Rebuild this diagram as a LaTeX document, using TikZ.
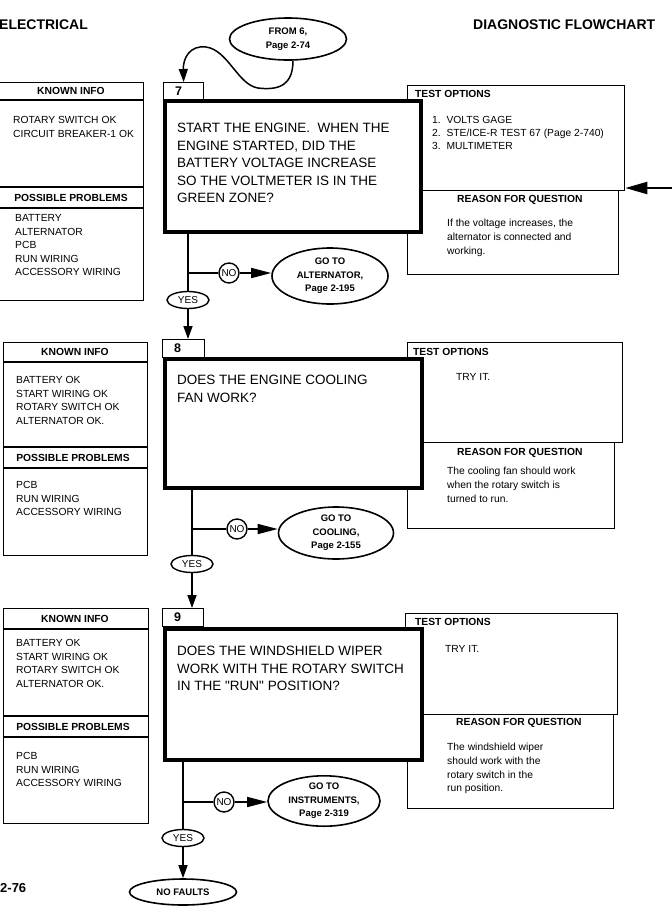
\documentclass[tikz,border=0pt]{standalone}
\usepackage{fontspec}
\setmainfont{Liberation Sans}[Ligatures=TeXOff]
\usetikzlibrary{arrows.meta,shapes.geometric}
\begin{document}
\begin{tikzpicture}[x=1pt,y=-1pt,
 pline/.style={line width=1.3pt},
 panel/.style={draw, line width=1.3pt, inner sep=0pt, anchor=north west},
 qbox/.style={draw, line width=4pt, fill=white, inner sep=0pt, anchor=north west},
 lbl/.style={draw, line width=1.3pt, fill=white, inner sep=0pt, anchor=north west},
 num/.style={anchor=west, inner sep=0pt, font=\bfseries\fontsize{12.5}{14}\selectfont},
 qtext/.style={anchor=north west, inner sep=0pt, align=left, font=\fontsize{13.5}{17.5}\selectfont},
 ptext/.style={anchor=north west, inner sep=0pt, align=left, font=\fontsize{10.3}{13.6}\selectfont},
 phead/.style={inner sep=0pt, font=\bfseries\fontsize{10.3}{12}\selectfont},
 ell/.style={ellipse, draw, line width=1.6pt, inner sep=0pt, align=center, font=\bfseries\fontsize{9.5}{13.5}\selectfont},
 yes/.style={ellipse, draw, line width=1.4pt, minimum width=42pt, minimum height=17pt, inner sep=0pt, font=\fontsize{10}{11}\selectfont},
 no/.style={circle, draw, line width=1.4pt, minimum size=20pt, inner sep=0pt, font=\fontsize{10}{11}\selectfont},
 conn/.style={line width=1.5pt},
 arr/.style={conn, -{Triangle[length=13pt,width=9pt]}},
 narr/.style={conn, -{Triangle[length=20pt,width=10pt]}},
 barr/.style={line width=2.2pt, -{Triangle[length=22pt,width=12pt]}},
 head/.style={anchor=west, inner sep=0pt, font=\bfseries\fontsize{14}{16}\selectfont},
]
\useasboundingbox (0,0) rectangle (672,914);

% headers
\node[head] (hl) at (-1,25) {ELECTRICAL};
\node[head] (hr) at (473,25) {DIAGNOSTIC FLOWCHART};
\node[head, font=\bfseries\fontsize{13}{15}\selectfont] (pg) at (0,888) {2-76};

% ---------------- block 7 ----------------
\node[panel, minimum width=144pt, minimum height=218pt] (k7) at (-1,82) {};
\draw[pline] (k7.west |- 0,100) -- (k7.east |- 0,100);
\draw[pline] (k7.west |- 0,187) -- (k7.east |- 0,187);
\draw[pline] (k7.west |- 0,208) -- (k7.east |- 0,208);
\node[phead] (k7h) at (71,91) {KNOWN INFO};
\node[phead] (k7p) at (71,197.5) {POSSIBLE PROBLEMS};
\node[ptext] (k7a) at (13,116.3) {ROTARY SWITCH OK\\CIRCUIT BREAKER-1 OK};
\node[ptext] (k7b) at (15,214.3) {BATTERY\\ALTERNATOR\\PCB\\RUN WIRING\\ACCESSORY WIRING};

\node[panel, minimum width=217pt, minimum height=105pt] (t7) at (407,85) {};
\node[panel, minimum width=211pt, minimum height=84pt] (r7) at (407,190) {};
\node[lbl, minimum width=40pt, minimum height=17pt] (lab7) at (163,82) {};
\node[num] (n7) at ([xshift=12pt]lab7.west) {7};
\node[qbox, minimum width=256pt, minimum height=131pt] (q7) at (163,99) {};
\node[qtext] (q7t) at (177,123) {START THE ENGINE.\ \ WHEN THE\\ENGINE STARTED, DID THE\\BATTERY VOLTAGE INCREASE\\SO THE VOLTMETER IS IN THE\\GREEN ZONE?};
\node[phead, anchor=west] (t7h) at (415,94) {TEST OPTIONS};
\node[ptext, font=\fontsize{10.3}{12.8}\selectfont] (t7a) at (432,116.3) {1.\ \ VOLTS GAGE\\2.\ \ STE/ICE-R TEST 67 (Page 2-740)\\3.\ \ MULTIMETER};
\node[phead, anchor=west] (r7h) at (457,200) {REASON FOR QUESTION};
\node[ptext] (r7a) at (447,219.3) {If the voltage increases, the\\alternator is connected and\\working.};

\coordinate (rin) at (672,188);
\draw[barr] (rin) -- (rin -| t7.east);

\node[ell, minimum width=117pt, minimum height=42pt] (from) at (288,39) {FROM 6,\\Page 2-74};
\draw[arr] ([xshift=5pt]from.south) .. controls (293,88) and (275,90) .. (258,88)
  .. controls (238,85) and (228,50) .. (206,47)
  .. controls (190,45) and (183,58) .. (lab7.north);

\coordinate (b7) at (188,273);
\node[no] (no7) at (229,273) {NO};
\node[ell, minimum width=116pt, minimum height=56pt] (alt7) at (330,276) {GO TO\\ALTERNATOR,\\Page 2-195};
\node[yes] (yes7) at (188,300) {YES};
\draw[conn] (q7.south -| b7) -- (yes7.north);
\draw[conn] (b7) -- (no7);
\draw[narr] (no7) -- (no7 -| alt7.west);

% ---------------- block 8 ----------------
\node[panel, minimum width=144pt, minimum height=213pt] (k8) at (3,342) {};
\draw[pline] (k8.west |- 0,362) -- (k8.east |- 0,362);
\draw[pline] (k8.west |- 0,447) -- (k8.east |- 0,447);
\draw[pline] (k8.west |- 0,468) -- (k8.east |- 0,468);
\node[phead] (k8h) at (75,352) {KNOWN INFO};
\node[phead] (k8p) at (73,457.5) {POSSIBLE PROBLEMS};
\node[ptext] (k8a) at (16,376.3) {BATTERY OK\\START WIRING OK\\ROTARY SWITCH OK\\ALTERNATOR OK.};
\node[ptext] (k8b) at (16,481.3) {PCB\\RUN WIRING\\ACCESSORY WIRING};

\node[panel, minimum width=215pt, minimum height=100pt] (t8) at (407,342) {};
\node[panel, minimum width=207pt, minimum height=86pt] (r8) at (407,442) {};
\node[lbl, minimum width=42pt, minimum height=18pt] (lab8) at (162,339) {};
\node[num] (n8) at ([xshift=12pt]lab8.west) {8};
\node[qbox, minimum width=257pt, minimum height=129pt] (q8) at (163,357) {};
\node[qtext] (q8t) at (177,375) {DOES THE ENGINE COOLING\\FAN WORK?};
\node[phead, anchor=west] (t8h) at (413,352) {TEST OPTIONS};
\node[ptext] (t8a) at (456,373.3) {TRY IT.};
\node[phead, anchor=west] (r8h) at (457,453) {REASON FOR QUESTION};
\node[ptext] (r8a) at (447,467.3) {The cooling fan should work\\when the rotary switch is\\turned to run.};

\draw[arr] (yes7.south) -- (lab8.north -| yes7.south);

\coordinate (b8) at (192,529);
\node[no] (no8) at (237,529) {NO};
\node[ell, minimum width=115pt, minimum height=52pt] (cool8) at (336,533) {GO TO\\COOLING,\\Page 2-155};
\node[yes] (yes8) at (192,564) {YES};
\draw[conn] (q8.south -| b8) -- (yes8.north);
\draw[conn] (b8) -- (no8);
\draw[narr] (no8) -- (no8 -| cool8.west);

% ---------------- block 9 ----------------
\node[panel, minimum width=145pt, minimum height=215pt] (k9) at (3,608) {};
\draw[pline] (k9.west |- 0,629) -- (k9.east |- 0,629);
\draw[pline] (k9.west |- 0,716) -- (k9.east |- 0,716);
\draw[pline] (k9.west |- 0,737) -- (k9.east |- 0,737);
\node[phead] (k9h) at (75,618.5) {KNOWN INFO};
\node[phead] (k9p) at (73,726.5) {POSSIBLE PROBLEMS};
\node[ptext] (k9a) at (16,639.3) {BATTERY OK\\START WIRING OK\\ROTARY SWITCH OK\\ALTERNATOR OK.};
\node[ptext] (k9b) at (16,752.3) {PCB\\RUN WIRING\\ACCESSORY WIRING};

\node[panel, minimum width=212pt, minimum height=101pt] (t9) at (405,613) {};
\node[panel, minimum width=206pt, minimum height=94pt] (r9) at (407,714) {};
\node[lbl, minimum width=41pt, minimum height=18pt] (lab9) at (162,608) {};
\node[num] (n9) at ([xshift=12pt]lab9.west) {9};
\node[qbox, minimum width=257pt, minimum height=131pt] (q9) at (163,627) {};
\node[qtext] (q9t) at (177,646) {DOES THE WINDSHIELD WIPER\\WORK WITH THE ROTARY SWITCH\\IN THE "RUN" POSITION?};
\node[phead, anchor=west] (t9h) at (415,622) {TEST OPTIONS};
\node[ptext] (t9a) at (445,645.3) {TRY IT.};
\node[phead, anchor=west] (r9h) at (456,723) {REASON FOR QUESTION};
\node[ptext] (r9a) at (447,743.3) {The windshield wiper\\should work with the\\rotary switch in the\\run position.};

\draw[arr] (yes8.south) -- (lab9.north -| yes8.south);

\coordinate (b9) at (183,802);
\node[no] (no9) at (224,802) {NO};
\node[ell, minimum width=112pt, minimum height=42pt] (inst9) at (324,801) {GO TO\\INSTRUMENTS,\\Page 2-319};
\node[yes] (yes9) at (183,838) {YES};
\node[ell, minimum width=107pt, minimum height=26pt] (nf) at (183,892) {NO FAULTS};
\draw[conn] (q9.south -| b9) -- (yes9.north);
\draw[conn] (b9) -- (no9);
\draw[narr] (no9) -- (no9 -| inst9.west);
\draw[arr] (yes9.south) -- (nf.north);
\end{tikzpicture}
\end{document}
